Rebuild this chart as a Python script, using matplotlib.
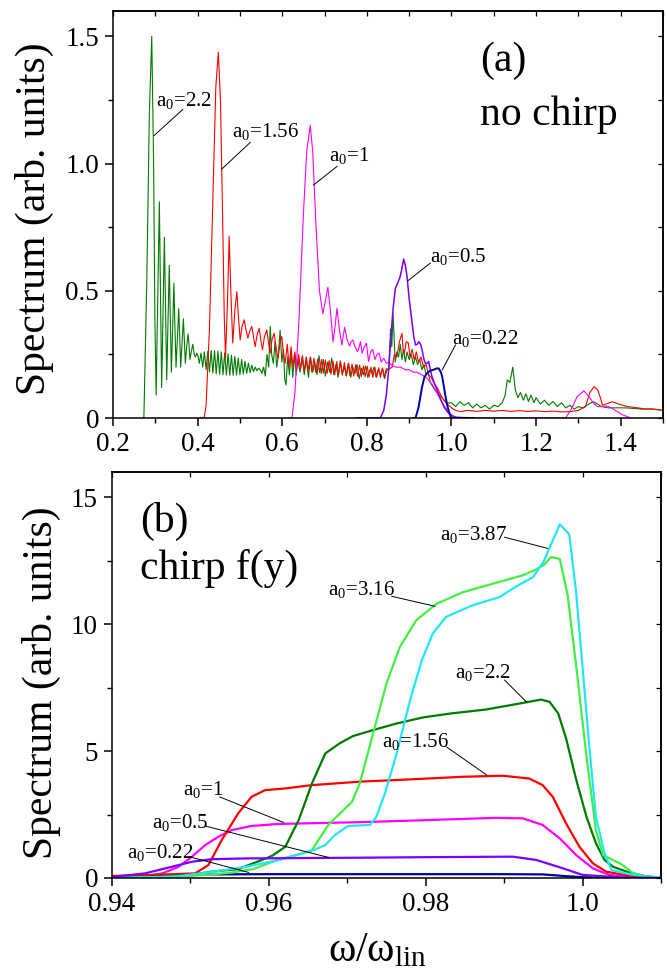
#!/usr/bin/env python
## Harmonic spectra for several laser amplitudes a0: (a) without chirp, (b) with chirp f(y)
import numpy as np
import matplotlib
matplotlib.use('agg')
import matplotlib.pyplot as plt
from matplotlib.ticker import MultipleLocator, FuncFormatter

plt.rcParams['font.family'] = ['Liberation Serif', 'DejaVu Serif']
plt.rcParams['mathtext.fontset'] = 'custom'
plt.rcParams['mathtext.rm'] = 'Liberation Serif'
plt.rcParams['mathtext.it'] = 'Liberation Serif:italic'

### panel (a): no chirp
a22_x = [0.27, 0.273, 0.28, 0.286, 0.2916, 0.296, 0.299, 0.302, 0.306, 0.3096, 0.3125, 0.315,
         0.318, 0.3215, 0.3245, 0.327, 0.33, 0.333, 0.3355, 0.338, 0.341, 0.344, 0.3465, 0.349,
         0.352, 0.3555, 0.358, 0.360, 0.363, 0.3664, 0.369, 0.371, 0.374, 0.3775, 0.38, 0.382,
         0.385, 0.3886, 0.392, 0.395, 0.398,
         0.400, 0.404, 0.408, 0.412, 0.416, 0.420, 0.424, 0.428, 0.432, 0.436, 0.440, 0.444,
         0.448, 0.452, 0.456, 0.460, 0.464, 0.468, 0.472, 0.476, 0.480, 0.484, 0.488, 0.492,
         0.496, 0.500, 0.504, 0.508, 0.512, 0.516, 0.520, 0.524, 0.528, 0.532, 0.536, 0.540,
         0.544, 0.548, 0.552, 0.556, 0.560, 0.564, 0.568, 0.5716, 0.575, 0.579, 0.583, 0.587,
         0.591, 0.595, 0.599, 0.603, 0.606, 0.609, 0.613, 0.617, 0.621, 0.625, 0.629, 0.633,
         0.637, 0.642, 0.647, 0.652, 0.657, 0.662, 0.667, 0.672, 0.677, 0.682, 0.687, 0.692,
         0.697, 0.702, 0.707, 0.712, 0.717, 0.722, 0.727, 0.732, 0.737, 0.742, 0.747, 0.752,
         0.757, 0.762, 0.767, 0.772, 0.777, 0.782, 0.787, 0.792, 0.797, 0.802, 0.807, 0.812,
         0.817, 0.822, 0.827, 0.832, 0.837, 0.842, 0.847, 0.852, 0.856, 0.859, 0.862, 0.865,
         0.867, 0.871, 0.875, 0.879, 0.883, 0.887, 0.891, 0.895, 0.900, 0.905, 0.910, 0.915,
         0.920, 0.925, 0.930, 0.935, 0.940, 0.945, 0.950, 0.957, 0.965, 0.972, 0.980, 0.990,
         1.000, 1.010, 1.020, 1.030, 1.040, 1.050, 1.060, 1.070, 1.080, 1.090, 1.100, 1.110,
         1.120, 1.127, 1.132, 1.138, 1.145, 1.151, 1.157, 1.163, 1.170, 1.176, 1.182, 1.188,
         1.195, 1.200, 1.210, 1.220, 1.230, 1.240, 1.250, 1.260, 1.270, 1.280, 1.290, 1.300,
         1.310, 1.320, 1.330, 1.336, 1.345, 1.355, 1.370, 1.390, 1.410, 1.430, 1.450, 1.470,
         1.490, 1.500]
a22_y = [0.0, 0.0, 0.55, 1.2, 1.5, 1.0, 0.4, 0.09, 0.5, 0.85, 0.45, 0.12,
         0.4, 0.71, 0.4, 0.15, 0.38, 0.6, 0.38, 0.18, 0.36, 0.53, 0.35, 0.2,
         0.31, 0.43, 0.3, 0.2, 0.29, 0.39, 0.29, 0.215, 0.28, 0.33, 0.28, 0.23,
         0.26, 0.29, 0.25, 0.24, 0.255,
         0.25, 0.215, 0.255, 0.2, 0.26, 0.19, 0.262, 0.182, 0.265, 0.177, 0.265, 0.174,
         0.263, 0.172, 0.26, 0.17, 0.256, 0.169, 0.252, 0.168, 0.247, 0.168, 0.242, 0.169,
         0.236, 0.17, 0.23, 0.172, 0.223, 0.175, 0.216, 0.178, 0.208, 0.182, 0.2, 0.186,
         0.196, 0.19, 0.175, 0.2, 0.165, 0.25, 0.2, 0.36, 0.25, 0.215, 0.3, 0.2,
         0.25, 0.345, 0.22, 0.27, 0.15, 0.13, 0.24, 0.17, 0.26, 0.16, 0.25, 0.17,
         0.23, 0.18, 0.24, 0.17, 0.23, 0.16, 0.24, 0.18, 0.22, 0.17, 0.245, 0.175,
         0.23, 0.165, 0.22, 0.18, 0.235, 0.17, 0.21, 0.16, 0.225, 0.175, 0.2, 0.165,
         0.215, 0.16, 0.2, 0.175, 0.21, 0.155, 0.195, 0.17, 0.205, 0.16, 0.19, 0.175,
         0.2, 0.16, 0.19, 0.17, 0.195, 0.155, 0.185, 0.2, 0.35, 0.28, 0.41, 0.3,
         0.22, 0.26, 0.24, 0.29, 0.23, 0.27, 0.22, 0.26, 0.23, 0.25, 0.21, 0.24,
         0.21, 0.23, 0.19, 0.21, 0.17, 0.18, 0.14, 0.12, 0.1, 0.09, 0.075, 0.058,
         0.06, 0.045, 0.064, 0.05, 0.06, 0.04, 0.055, 0.04, 0.05, 0.035, 0.05, 0.045,
         0.06, 0.09, 0.15, 0.14, 0.2, 0.11, 0.08, 0.1, 0.07, 0.095, 0.065, 0.09,
         0.06, 0.08, 0.055, 0.07, 0.05, 0.065, 0.045, 0.06, 0.04, 0.05, 0.035, 0.045,
         0.04, 0.05, 0.06, 0.064, 0.055, 0.045, 0.04, 0.04, 0.04, 0.038, 0.035, 0.036,
         0.032, 0.03]

a156_x = [0.405, 0.4154, 0.42, 0.428, 0.436, 0.443, 0.449, 0.454, 0.459, 0.463, 0.466, 0.4705,
          0.4746, 0.4785, 0.483, 0.488, 0.4927, 0.4965, 0.5006, 0.505, 0.51, 0.514, 0.5188,
          0.523, 0.528, 0.532, 0.536, 0.541, 0.5456, 0.55, 0.5534, 0.558, 0.5637, 0.568,
          0.5716, 0.576, 0.581, 0.586, 0.59, 0.595, 0.599, 0.603, 0.607, 0.612, 0.616, 0.621,
          0.625, 0.63, 0.634, 0.639, 0.643, 0.648, 0.652, 0.657, 0.661, 0.666, 0.670, 0.675,
          0.679, 0.684, 0.688, 0.693, 0.697, 0.702, 0.706, 0.711, 0.715, 0.720, 0.724, 0.729,
          0.733, 0.738, 0.742, 0.747, 0.751, 0.756, 0.760, 0.765, 0.769, 0.774, 0.778, 0.783,
          0.787, 0.792, 0.796, 0.801, 0.805, 0.810, 0.814, 0.819, 0.823, 0.828, 0.832, 0.837,
          0.841, 0.846, 0.850, 0.860, 0.865, 0.871, 0.877, 0.883, 0.886, 0.889, 0.893, 0.898,
          0.902, 0.907, 0.912, 0.917, 0.922, 0.928, 0.934, 0.940, 0.946, 0.952, 0.958, 0.966,
          0.975, 0.982, 0.990, 1.000, 1.010, 1.021, 1.040, 1.060, 1.080, 1.100, 1.120, 1.140,
          1.160, 1.180, 1.200, 1.220, 1.240, 1.260, 1.280, 1.300, 1.317, 1.327, 1.337, 1.346,
          1.352, 1.357, 1.365, 1.380, 1.395, 1.416, 1.440, 1.460, 1.480, 1.500]
a156_y = [0.0, 0.0, 0.05, 0.35, 0.85, 1.3, 1.438, 1.25, 0.8, 0.4, 0.236, 0.45,
          0.714, 0.5, 0.295, 0.42, 0.497, 0.4, 0.307, 0.36, 0.386, 0.35, 0.314,
          0.34, 0.36, 0.32, 0.28, 0.33, 0.353, 0.3, 0.268, 0.32, 0.346, 0.29,
          0.255, 0.31, 0.333, 0.27, 0.235, 0.3, 0.32, 0.25, 0.215, 0.29, 0.2, 0.28,
          0.2, 0.26, 0.19, 0.25, 0.19, 0.245, 0.185, 0.24, 0.185, 0.238, 0.18, 0.235,
          0.18, 0.232, 0.178, 0.23, 0.176, 0.228, 0.175, 0.226, 0.172, 0.224, 0.17, 0.222,
          0.17, 0.22, 0.168, 0.218, 0.167, 0.215, 0.166, 0.212, 0.165, 0.21, 0.164, 0.208,
          0.163, 0.205, 0.162, 0.203, 0.161, 0.2, 0.16, 0.2, 0.16, 0.198, 0.16, 0.196,
          0.16, 0.194, 0.19, 0.2, 0.25, 0.24, 0.3, 0.333, 0.26, 0.255, 0.3, 0.295,
          0.24, 0.27, 0.23, 0.26, 0.22, 0.24, 0.2, 0.21, 0.17, 0.16, 0.14, 0.12,
          0.09, 0.07, 0.055, 0.04, 0.03, 0.025, 0.03, 0.026, 0.03, 0.027, 0.03, 0.026,
          0.029, 0.026, 0.028, 0.025, 0.027, 0.024, 0.025, 0.03, 0.045, 0.1, 0.123, 0.11,
          0.08, 0.05, 0.055, 0.064, 0.055, 0.045, 0.04, 0.035, 0.035, 0.03]

a1_x = [0.614, 0.623, 0.63, 0.64, 0.65, 0.658, 0.6663, 0.672, 0.68, 0.688, 0.696, 0.702,
        0.708, 0.714, 0.72, 0.725, 0.7294, 0.735, 0.741, 0.744, 0.7475, 0.753, 0.759, 0.763,
        0.767, 0.772, 0.778, 0.782, 0.785, 0.789, 0.794, 0.799, 0.804, 0.809, 0.814, 0.819,
        0.824, 0.829, 0.834, 0.84, 0.846, 0.852, 0.86, 0.87, 0.88, 0.89, 0.9, 0.91,
        0.919, 0.93, 0.942, 0.955, 0.966, 0.978, 0.99, 1.005, 1.02, 1.27, 1.285, 1.297,
        1.313, 1.325, 1.335, 1.345, 1.357, 1.368, 1.38, 1.392, 1.405, 1.42]
a1_y = [0.0, 0.0, 0.1, 0.4, 0.8, 1.05, 1.15, 1.05, 0.75, 0.5, 0.41, 0.46,
        0.514, 0.42, 0.3, 0.36, 0.432, 0.35, 0.287, 0.32, 0.357, 0.31, 0.283, 0.3,
        0.307, 0.28, 0.261, 0.28, 0.3, 0.255, 0.28, 0.294, 0.222, 0.26, 0.27, 0.23,
        0.25, 0.255, 0.22, 0.235, 0.215, 0.22, 0.205, 0.2, 0.2, 0.19, 0.19, 0.18,
        0.18, 0.17, 0.157, 0.13, 0.098, 0.06, 0.03, 0.005, 0.0, 0.0, 0.04, 0.084,
        0.107, 0.084, 0.06, 0.045, 0.045, 0.047, 0.038, 0.025, 0.012, 0.003]

a05_x = [0.775, 0.832, 0.84, 0.846, 0.8516, 0.857, 0.862, 0.8675, 0.8777, 0.882, 0.887, 0.891,
         0.895, 0.9, 0.907, 0.911, 0.915, 0.919, 0.9226, 0.927, 0.9306, 0.935, 0.9385, 0.942,
         0.946, 0.95, 0.954, 0.96, 0.966, 0.974, 0.982, 0.99, 0.998, 1.01, 1.05]
a05_y = [0.0, 0.0, 0.03, 0.09, 0.19, 0.32, 0.43, 0.51, 0.55, 0.58, 0.625, 0.6,
         0.556, 0.47, 0.373, 0.32, 0.287, 0.29, 0.3, 0.29, 0.268, 0.23, 0.215, 0.215,
         0.222, 0.19, 0.163, 0.135, 0.11, 0.075, 0.045, 0.025, 0.012, 0.003, 0.0]

a022_x = [0.91, 0.915, 0.922, 0.9306, 0.936, 0.942, 0.95, 0.958, 0.965, 0.97, 0.975, 0.978,
          0.982, 0.986, 0.99, 0.994, 0.997, 1.0, 1.052]
a022_y = [0.0, 0.0, 0.04, 0.123, 0.16, 0.176, 0.186, 0.19, 0.195, 0.195, 0.18, 0.163,
          0.125, 0.084, 0.05, 0.025, 0.01, 0.0, 0.0]

### panel (b): chirp f(y)
b387_x = [0.94, 0.948, 0.953, 0.957, 0.9612, 0.9655, 0.9672, 0.9684, 0.9701, 0.9729, 0.9737,
          0.9748, 0.9763, 0.978, 0.9795, 0.9809, 0.9826, 0.986, 0.9894, 0.9916, 0.9937, 0.995,
          0.9971, 0.9983, 0.9992, 1.0, 1.0009, 1.0017, 1.0028, 1.0037, 1.0051, 1.0073, 1.01]
b387_y = [0.0, 0.05, 0.25, 0.44, 0.7, 1.07, 1.3, 1.69, 2.05, 2.09, 2.41,
          3.33, 4.91, 7.0, 8.58, 9.63, 10.29, 10.75, 11.07, 11.5, 11.86, 12.45,
          13.94, 13.54, 11.2, 8.3, 5.04, 2.41, 0.97, 0.31, 0.21, 0.08, 0.02]

b316_x = [0.94, 0.945, 0.95, 0.955, 0.958, 0.961, 0.964, 0.9655, 0.9676, 0.9693, 0.9706,
          0.9716, 0.9733, 0.975, 0.9767, 0.9788, 0.9814, 0.9848, 0.9894, 0.9924, 0.9939,
          0.995, 0.996, 0.9971, 0.9981, 0.9992, 1.0005, 1.0017, 1.0026, 1.0049, 1.0064,
          1.008, 1.01]
b316_y = [0.0, 0.02, 0.08, 0.2, 0.35, 0.7, 0.95, 1.1, 2.1, 2.61, 3.0,
          3.73, 5.7, 7.67, 9.1, 10.16, 10.81, 11.27, 11.67, 11.93, 12.13,
          12.32, 12.65, 12.57, 11.14, 8.32, 4.78, 1.89, 0.9, 0.55, 0.2,
          0.05, 0.02]

b22_x = [0.94, 0.945, 0.95, 0.9527, 0.9561, 0.9591, 0.9604, 0.9621, 0.9638, 0.9655, 0.9672,
         0.969, 0.9707, 0.9733, 0.9763, 0.9797, 0.9831, 0.9877, 0.9924, 0.9947, 0.9958,
         0.9969, 0.9979, 0.9992, 1.0005, 1.0017, 1.0028, 1.0039, 1.006, 1.008, 1.01]
b22_y = [0.02, 0.05, 0.12, 0.25, 0.35, 0.71, 0.87, 1.23, 2.28, 3.73, 4.91,
         5.3, 5.59, 5.83, 6.09, 6.33, 6.48, 6.64, 6.9, 7.03, 6.94,
         6.48, 5.5, 3.86, 2.41, 1.37, 0.71, 0.44, 0.21, 0.07, 0.01]

b156_x = [0.94, 0.945, 0.9506, 0.9523, 0.954, 0.9561, 0.9578, 0.9595, 0.9621, 0.9655, 0.9718,
          0.9763, 0.9848, 0.9898, 0.9932, 0.9949, 0.9962, 0.9979, 0.9996, 1.0013, 1.003,
          1.006, 1.01]
b156_y = [0.08, 0.12, 0.18, 0.51, 1.5, 2.55, 3.2, 3.46, 3.53, 3.66, 3.8,
          3.86, 3.99, 4.03, 3.92, 3.66, 3.2, 2.15, 1.23, 0.58, 0.25,
          0.09, 0.01]

b1_x = [0.94, 0.944, 0.9464, 0.9485, 0.9502, 0.9519, 0.9536, 0.9553, 0.9578, 0.9612, 0.9718,
        0.98, 0.989, 0.9924, 0.9949, 0.9971, 0.9992, 1.0013, 1.0034, 1.007, 1.01]
b1_y = [0.02, 0.06, 0.18, 0.44, 0.84, 1.3, 1.63, 1.89, 2.05, 2.13, 2.2,
        2.28, 2.37, 2.35, 2.09, 1.56, 0.9, 0.38, 0.12, 0.02, 0.0]

b05_x = [0.94, 0.9442, 0.9476, 0.9502, 0.9527, 0.957, 0.9718, 0.98, 0.9911, 0.9941, 0.9975,
         1.0, 1.005, 1.01]
b05_y = [0.04, 0.18, 0.44, 0.64, 0.74, 0.77, 0.8, 0.82, 0.84, 0.71, 0.38,
         0.12, 0.02, 0.0]

b022_x = [0.94, 0.944, 0.948, 0.952, 0.96, 0.98, 0.99, 0.995, 0.9975, 1.0, 1.003, 1.01]
b022_y = [0.02, 0.05, 0.12, 0.14, 0.15, 0.15, 0.15, 0.14, 0.08, 0.03, 0.01, 0.0]

fig = plt.figure(figsize=(6.67, 9.71), dpi=100)
ax1 = fig.add_axes([0.1694, 0.5695, 0.8246, 0.4192])
ax2 = fig.add_axes([0.1679, 0.0958, 0.8231, 0.4181])

c_dkgreen = '#007a00'
ax1.plot(a22_x, a22_y, color=c_dkgreen, lw=0.8)
ax1.plot(a156_x, a156_y, color='#ff0000', lw=0.8)
ax1.plot(a1_x, a1_y, color='#ff00ff', lw=0.8)
ax1.plot(a05_x, a05_y, color='#7a00ff', lw=1.1)
ax1.plot(a022_x, a022_y, color='#0000a8', lw=1.4)

ax2.plot(b022_x, b022_y, color='#0000a8', lw=1.6)
ax2.plot(b1_x, b1_y, color='#ff00ff', lw=1.6)
ax2.plot(b156_x, b156_y, color='#ff0000', lw=1.6)
ax2.plot(b22_x, b22_y, color=c_dkgreen, lw=1.6)
ax2.plot(b316_x, b316_y, color='#44ee44', lw=1.6)
ax2.plot(b387_x, b387_y, color='#22e6f2', lw=1.6)
ax2.plot(b05_x, b05_y, color='#7a00ff', lw=1.6)


def frame(ax, xmaj, xmin, ymaj, ymin):
    for s in ax.spines.values():
        s.set_linewidth(1.1)
    ax.xaxis.set_major_locator(MultipleLocator(xmaj))
    ax.xaxis.set_minor_locator(MultipleLocator(xmin))
    ax.yaxis.set_major_locator(MultipleLocator(ymaj))
    ax.yaxis.set_minor_locator(MultipleLocator(ymin))
    ax.tick_params(which='major', direction='out', length=6, width=1.1,
                   labelsize=19.5, pad=4)
    ax.tick_params(which='minor', direction='out', length=3.5, width=1.0)
    # mirrored inward ticks on the top and right spines
    top = ax.secondary_xaxis('top')
    top.xaxis.set_major_locator(MultipleLocator(xmin))
    top.tick_params(direction='in', length=3.5, width=0.9, labeltop=False)
    top.spines['top'].set_linewidth(1.1)
    right = ax.secondary_yaxis('right')
    right.yaxis.set_major_locator(MultipleLocator(ymin))
    right.tick_params(direction='in', length=3.5, width=0.9, labelright=False)
    right.spines['right'].set_linewidth(1.1)


frame(ax1, 0.2, 0.1, 0.5, 0.25)
ax1.set_xlim(0.2, 1.5)
ax1.set_ylim(0, 1.6)
ax1.xaxis.set_major_formatter(FuncFormatter(lambda v, p: '%.1f' % v))
ax1.yaxis.set_major_formatter(FuncFormatter(lambda v, p: '0' if abs(v) < 1e-9 else '%.1f' % v))
ax1.set_ylabel('Spectrum (arb. units)', fontsize=30)
ax1.yaxis.set_label_coords(-0.107, 0.49)

frame(ax2, 0.02, 0.01, 5, 2.5)
ax2.set_xlim(0.94, 1.01)
ax2.set_ylim(0, 16)
ax2.xaxis.set_major_formatter(FuncFormatter(lambda v, p: '1.0' if abs(v - 1) < 1e-9 else '%.2f' % v))
ax2.yaxis.set_major_formatter(FuncFormatter(lambda v, p: '%d' % round(v)))
ax2.set_ylabel('Spectrum (arb. units)', fontsize=30)
ax2.yaxis.set_label_coords(-0.093, 0.48)
ax2.set_xlabel(r'ω/ω$_{\rm lin}$', fontsize=30)
ax2.xaxis.label.set_va('center')
ax2.xaxis.set_label_coords(0.483, -0.18)

# panel titles
ax1.text(1.0686, 1.363, '(a)', fontsize=30, va='baseline')
ax1.text(1.0686, 1.153, 'no chirp', fontsize=30, va='baseline')
ax2.text(0.94357, 13.63, '(b)', fontsize=30, va='baseline')
ax2.text(0.94357, 11.8, 'chirp f(y)', fontsize=30, va='baseline')

# curve labels with leader lines: (text x, text y, label, line start, line end)
lab_a = [(0.3018, 1.226, '2.2', (0.365, 1.213), (0.297, 1.11)),
         (0.4817, 1.105, '1.56', (0.5243, 1.083), (0.4573, 0.979)),
         (0.711, 1.009, '1', (0.7295, 0.989), (0.674, 0.916)),
         (0.950, 0.615, '0.5', (0.950, 0.609), (0.8966, 0.539)),
         (1.0024, 0.291, '0.22', (1.0095, 0.287), (0.978, 0.189))]
lab_b = [(0.98178, 13.33, '3.87', (0.99006, 13.43), (0.99554, 12.99)),
         (0.96756, 11.14, '3.16', (0.97567, 11.10), (0.98115, 10.71)),
         (0.98369, 7.90, '2.2', (0.99006, 7.80), (0.99287, 6.93)),
         (0.97439, 5.17, '1.56', (0.98268, 5.16), (0.98777, 4.06)),
         (0.94904, 3.27, '1', (0.95376, 3.19), (0.96187, 2.19)),
         (0.9451, 1.96, '0.5', (0.95185, 2.05), (0.96760, 0.81)),
         (0.94191, 0.78, '0.22', (0.94994, 0.83), (0.95741, 0.22))]
for ax, labs in ((ax1, lab_a), (ax2, lab_b)):
    for tx, ty, s, p0, p1 in labs:
        ax.text(tx, ty, r'a$_0$=' + s, fontsize=15, va='baseline')
        ax.plot([p0[0], p1[0]], [p0[1], p1[1]], color='black', lw=0.7)

plt.savefig('out.png', dpi=100)
